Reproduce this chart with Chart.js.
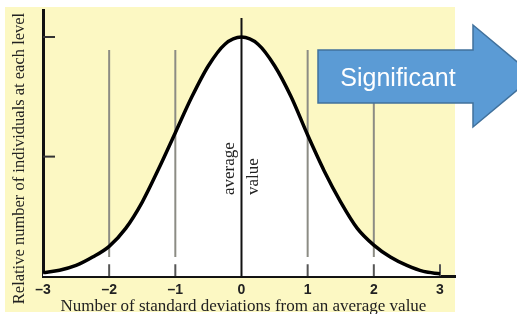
<!DOCTYPE html>
<html>
<head>
<meta charset="utf-8">
<script src="https://cdn.jsdelivr.net/npm/chart.js@4.4.0/dist/chart.umd.min.js"></script>
<style>
  html, body { margin: 0; padding: 0; background: #fff; }
</style>
</head>
<body>
<canvas id="myChart" width="517" height="314"></canvas>
<script>
// standard deviations (x) and relative number of individuals (y)
const deviations = [-3, -2.75, -2.5, -2.25, -2, -1.75, -1.5, -1.25, -1, -0.75, -0.5, -0.25, 0, 0.25, 0.5, 0.75, 1, 1.25, 1.5, 1.75, 2, 2.25, 2.5, 2.75, 3]
const heights = [0.015, 0.025, 0.045, 0.08, 0.125, 0.2, 0.31, 0.45, 0.6, 0.75, 0.88, 0.97, 1.0, 0.97, 0.88, 0.75, 0.59, 0.44, 0.31, 0.2, 0.13, 0.08, 0.045, 0.02, 0.01]
const xTicks = [-3, -2, -1, 0, 1, 2, 3]
const xTickLabels = ['–3', '–2', '–1', '0', '1', '2', '3']
const yTicks = [0.5, 1.0]
const guides = [-2, -1, 1, 2]
const tickMarks = [-2, -1, 1, 2, 3]
const meanX = 0

const curve = deviations.map((d, i) => ({ x: d, y: heights[i] }))

// vertical guide lines, broken with nulls
const guidePts = []
guides.forEach(g => {
    guidePts.push({ x: g, y: 0.08 }, { x: g, y: 0.946 }, { x: g, y: null })
})
const tickPts = []
tickMarks.forEach(t => {
    tickPts.push({ x: t, y: 0 }, { x: t, y: 0.05 }, { x: t, y: null })
})

const decor = {
    id: 'decor',
    beforeDraw(chart) {
        const c = chart.ctx
        c.save()
        c.fillStyle = '#fcf8c3'
        c.fillRect(5, 7, 450, 305)
        c.restore()
    },
    afterDraw(chart) {
        const c = chart.ctx
        const sx = chart.scales.x, sy = chart.scales.y
        c.save()
        // little inner ticks on the y axis
        c.strokeStyle = '#333'
        c.lineWidth = 2
        yTicks.forEach(v => {
            const py = sy.getPixelForValue(v)
            c.beginPath()
            c.moveTo(sx.left, py)
            c.lineTo(sx.left + 12, py)
            c.stroke()
        })

        c.fillStyle = '#222'
        c.font = '17px "Liberation Serif", "Times New Roman", serif'
        // x title
        c.textAlign = 'center'
        c.textBaseline = 'alphabetic'
        c.fillText('Number of standard deviations from an average value', 243.5, 311)

        // y title
        c.save()
        c.translate(24, 158.5)
        c.rotate(-Math.PI / 2)
        c.font = '16.5px "Liberation Serif", "Times New Roman", serif'
        c.fillText('Relative number of individuals at each level', 0, 0)
        c.restore()

        // "average value" along the mean line
        const px = sx.getPixelForValue(meanX)
        c.save()
        c.translate(px, 195)
        c.rotate(-Math.PI / 2)
        c.textAlign = 'left'
        c.fillText('average', 0, -7)
        c.fillText('value', 0, 17)
        c.restore()

        // blue arrow
        c.beginPath()
        c.moveTo(318, 50)
        c.lineTo(473, 50)
        c.lineTo(473, 25)
        c.lineTo(534, 76)
        c.lineTo(473, 127)
        c.lineTo(473, 103)
        c.lineTo(318, 103)
        c.closePath()
        c.fillStyle = '#5b9bd5'
        c.fill()
        c.strokeStyle = '#41719c'
        c.lineWidth = 1.5
        c.stroke()
        c.fillStyle = '#fff'
        c.font = '25px "Liberation Sans", Arial, sans-serif'
        c.textAlign = 'center'
        c.fillText('Significant', 398, 86)
        c.restore()
    }
}

var ctx = document.getElementById('myChart')
var myChart = new Chart(ctx, {
    type: 'line',
    data: {
        datasets: [{
            label: 'curve',
            data: curve,
            borderColor: '#000',
            borderWidth: 3.5,
            backgroundColor: '#fff',
            fill: 'origin',
            cubicInterpolationMode: 'monotone',
            pointRadius: 0,
            order: 0
        }, {
            label: 'mean',
            data: [{ x: meanX, y: 0 }, { x: meanX, y: 1.08 }],
            borderColor: '#111',
            borderWidth: 2,
            pointRadius: 0,
            fill: false,
            order: 1
        }, {
            label: 'guides',
            data: guidePts,
            borderColor: '#8c8c84',
            borderWidth: 2,
            pointRadius: 0,
            fill: false,
            spanGaps: false,
            order: 2
        }, {
            label: 'ticks',
            data: tickPts,
            borderColor: '#555',
            borderWidth: 2,
            pointRadius: 0,
            fill: false,
            spanGaps: false,
            order: 2
        }]
    },
    options: {
        responsive: false,
        animation: false,
        layout: { padding: { left: 43, right: 62, top: 10, bottom: 9 } },
        plugins: {
            legend: { display: false },
            tooltip: { enabled: false },
            filler: { drawTime: 'beforeDatasetsDraw' }
        },
        scales: {
            x: {
                type: 'linear',
                min: -3,
                max: 3.227,
                grid: { display: false, drawTicks: false },
                border: { display: true, color: '#111', width: 3 },
                afterBuildTicks: s => { s.ticks = xTicks.map(v => ({ value: v })) },
                ticks: {
                    padding: 6,
                    color: '#222',
                    font: { family: '"Liberation Sans", Arial, sans-serif', size: 14, weight: 'bold' },
                    callback: (v, i) => xTickLabels[i]
                }
            },
            y: {
                min: 0,
                max: 1.113,
                ticks: { display: false },
                grid: { display: false, drawTicks: false },
                border: { display: true, color: '#111', width: 3 }
            }
        }
    },
    plugins: [decor]
})
</script>
</body>
</html>
